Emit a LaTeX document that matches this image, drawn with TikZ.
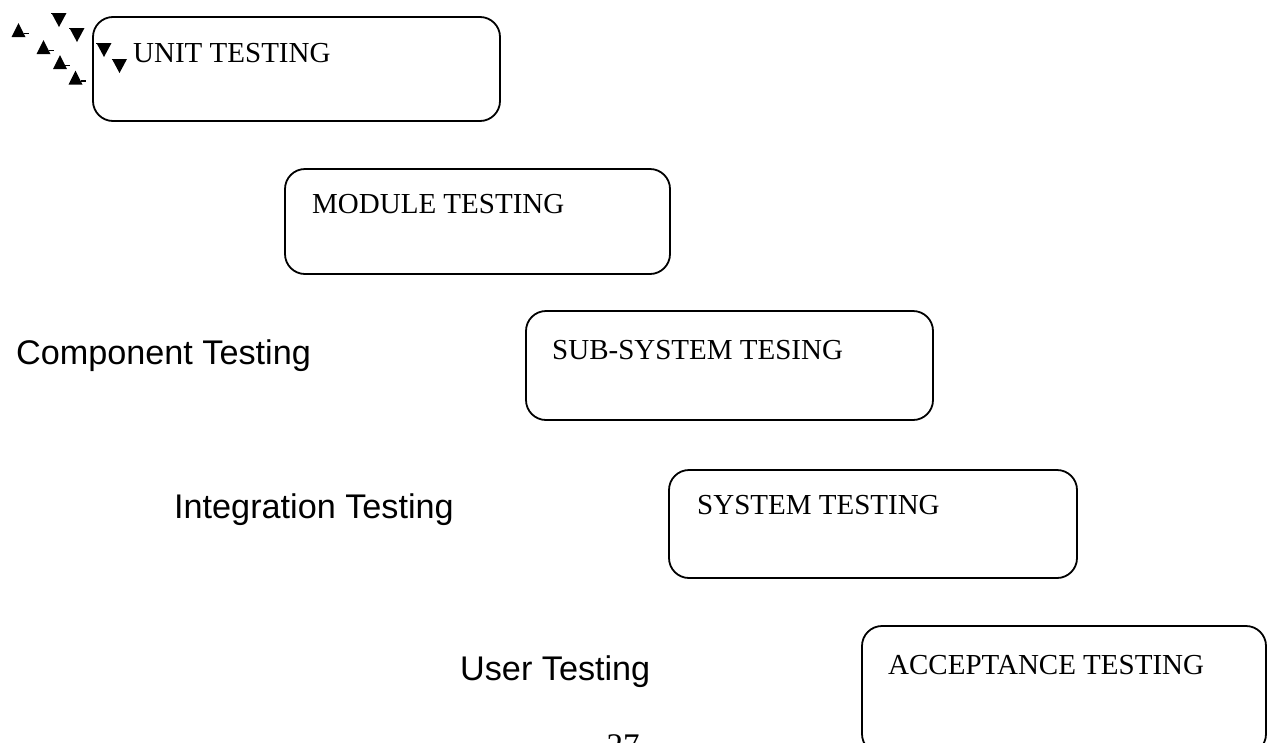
\documentclass[tikz,border=0pt]{standalone}
\usepackage{fontspec}
\setmainfont{Liberation Serif}
\setsansfont{Liberation Sans}
\begin{document}
\begin{tikzpicture}[x=1pt,y=-1pt,
  stagebox/.style={draw=black,line width=1.8pt,rounded corners=20pt,inner sep=0pt},
  stagetext/.style={anchor=base west,inner sep=0pt,font=\fontsize{29}{34}\selectfont},
  phasetext/.style={anchor=base west,inner sep=0pt,font=\sffamily\fontsize{34.2}{40}\selectfont},
  pagenum/.style={anchor=base,inner sep=0pt,font=\fontsize{33}{40}\selectfont},
  tipfill/.style={fill=black,draw=none},
  stub/.style={draw=black,line width=1.2pt}]
\clip (0,0) rectangle (1268,742);
\useasboundingbox (0,0) rectangle (1268,742);
\fill[white] (0,0) rectangle (1268,742);

% stage boxes
\node[stagebox,minimum width=407pt,minimum height=104pt] (unit) at (296.5,69) {};
\node[stagebox,minimum width=385pt,minimum height=105pt] (module) at (477.5,221.5) {};
\node[stagebox,minimum width=407pt,minimum height=109pt] (subsys) at (729.5,365.5) {};
\node[stagebox,minimum width=408pt,minimum height=108pt] (system) at (873,524) {};
\node[stagebox,minimum width=404pt,minimum height=128pt] (accept) at (1064,690) {};

% stage labels
\node[stagetext] (tunit) at (133,62) {UNIT TESTING};
\node[stagetext] (tmodule) at (312,213) {MODULE TESTING};
\node[stagetext] (tsubsys) at (552,359) {SUB-SYSTEM TESING};
\node[stagetext] (tsystem) at (697,514) {SYSTEM TESTING};
\node[stagetext] (taccept) at (888,674) {ACCEPTANCE TESTING};

% phase labels, each level with its stage
\node[phasetext] (pcomp) at (16,364) {Component Testing};
\node[phasetext] (pint) at (174,518) {Integration Testing};
\node[phasetext] (puser) at (460,680) {User Testing};

% page number
\node[pagenum] (pg) at (623,756) {27};

% stray arrow tips near the first box
\foreach \x/\y in {18.5/30, 43.5/47, 60/62, 75.5/77.5}{
  \fill[tipfill] (\x-7,\y+7) -- (\x+7,\y+7) -- (\x,\y-7) -- cycle;
  \draw[stub] (\x+5,\y+3.5) -- (\x+10,\y+3.5);
}
\foreach \x/\y in {59/20, 77/35, 104/50, 119.5/66}{
  \fill[tipfill] (\x-7.5,\y-7) -- (\x+7.5,\y-7) -- (\x,\y+7) -- cycle;
  \draw[stub] (\x-8,\y-6.5) -- (\x-3,\y-6.5);
}
\end{tikzpicture}
\end{document}
